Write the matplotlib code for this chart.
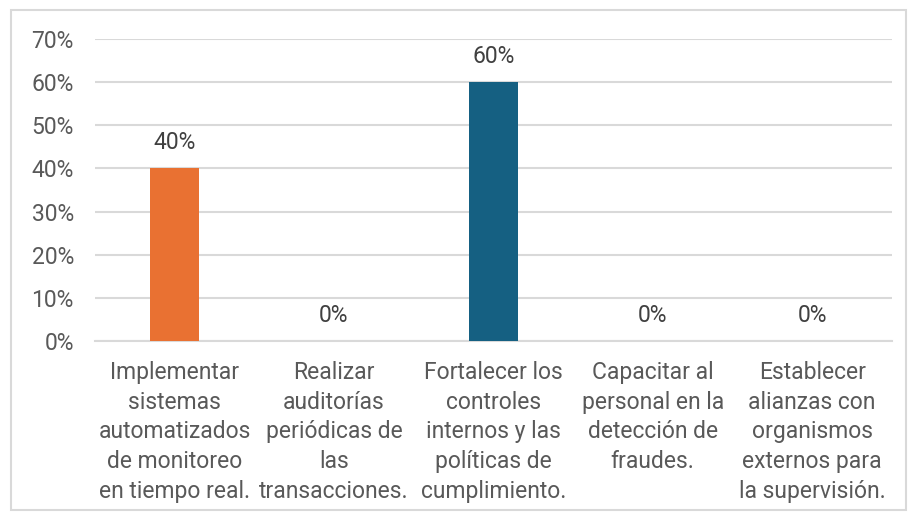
import matplotlib.pyplot as plt
import numpy as np
from matplotlib.patches import Rectangle

categories = [
    "Implementar\nsistemas\nautomatizados\nde monitoreo\nen tiempo real.",
    "Realizar\nauditorías\nperiódicas de\nlas\ntransacciones.",
    "Fortalecer los\ncontroles\ninternos y las\npolíticas de\ncumplimiento.",
    "Capacitar al\npersonal en la\ndetección de\nfraudes.",
    "Establecer\nalianzas con\norganismos\nexternos para\nla supervisión.",
]
values = [0.40, 0.0, 0.60, 0.0, 0.0]
colors = ["#E97132", "#E97132", "#156082", "#156082", "#156082"]
yticks = [0, 0.1, 0.2, 0.3, 0.4, 0.5, 0.6, 0.7]

plt.rcParams['font.family'] = ['Roboto', 'DejaVu Sans']
txt = '#595959'
grid = '#d9d9d9'

fig = plt.figure(figsize=(9.11, 5.12), dpi=100)
ax = fig.add_axes([0.104, 0.334, 0.875, 0.59])

x = np.arange(len(categories))
bars = ax.bar(x, values, width=0.31, color=colors, zorder=3)

for xi, v in zip(x, values):
    ax.annotate(f"{v:.0%}", (xi, v), xytext=(0, 18.5), textcoords='offset points',
                ha='center', va='center', fontsize=16.5, color='#404040')

ax.set_ylim(0, 0.7)
ax.set_xlim(-0.5, len(categories) - 0.5)
ax.set_yticks(yticks)
ax.set_yticklabels([f"{t:.0%}" for t in yticks])
ax.set_xticks(x)
ax.set_xticklabels(categories, linespacing=1.37)
ax.tick_params(axis='y', length=0, pad=15, labelsize=16.5, labelcolor=txt)
ax.tick_params(axis='x', length=0, pad=14.5, labelsize=16.5, labelcolor=txt)
ax.grid(axis='y', color=grid, linewidth=1.5, zorder=0)
for s in ['top', 'right', 'left']:
    ax.spines[s].set_visible(False)
ax.spines['bottom'].set_color(grid)
ax.spines['bottom'].set_linewidth(1.5)

fig.patches.append(Rectangle((0.012, 0.004), 0.982, 0.976, transform=fig.transFigure,
                             fill=False, edgecolor=grid, linewidth=1.5))

fig.savefig('out.png', dpi=100)
